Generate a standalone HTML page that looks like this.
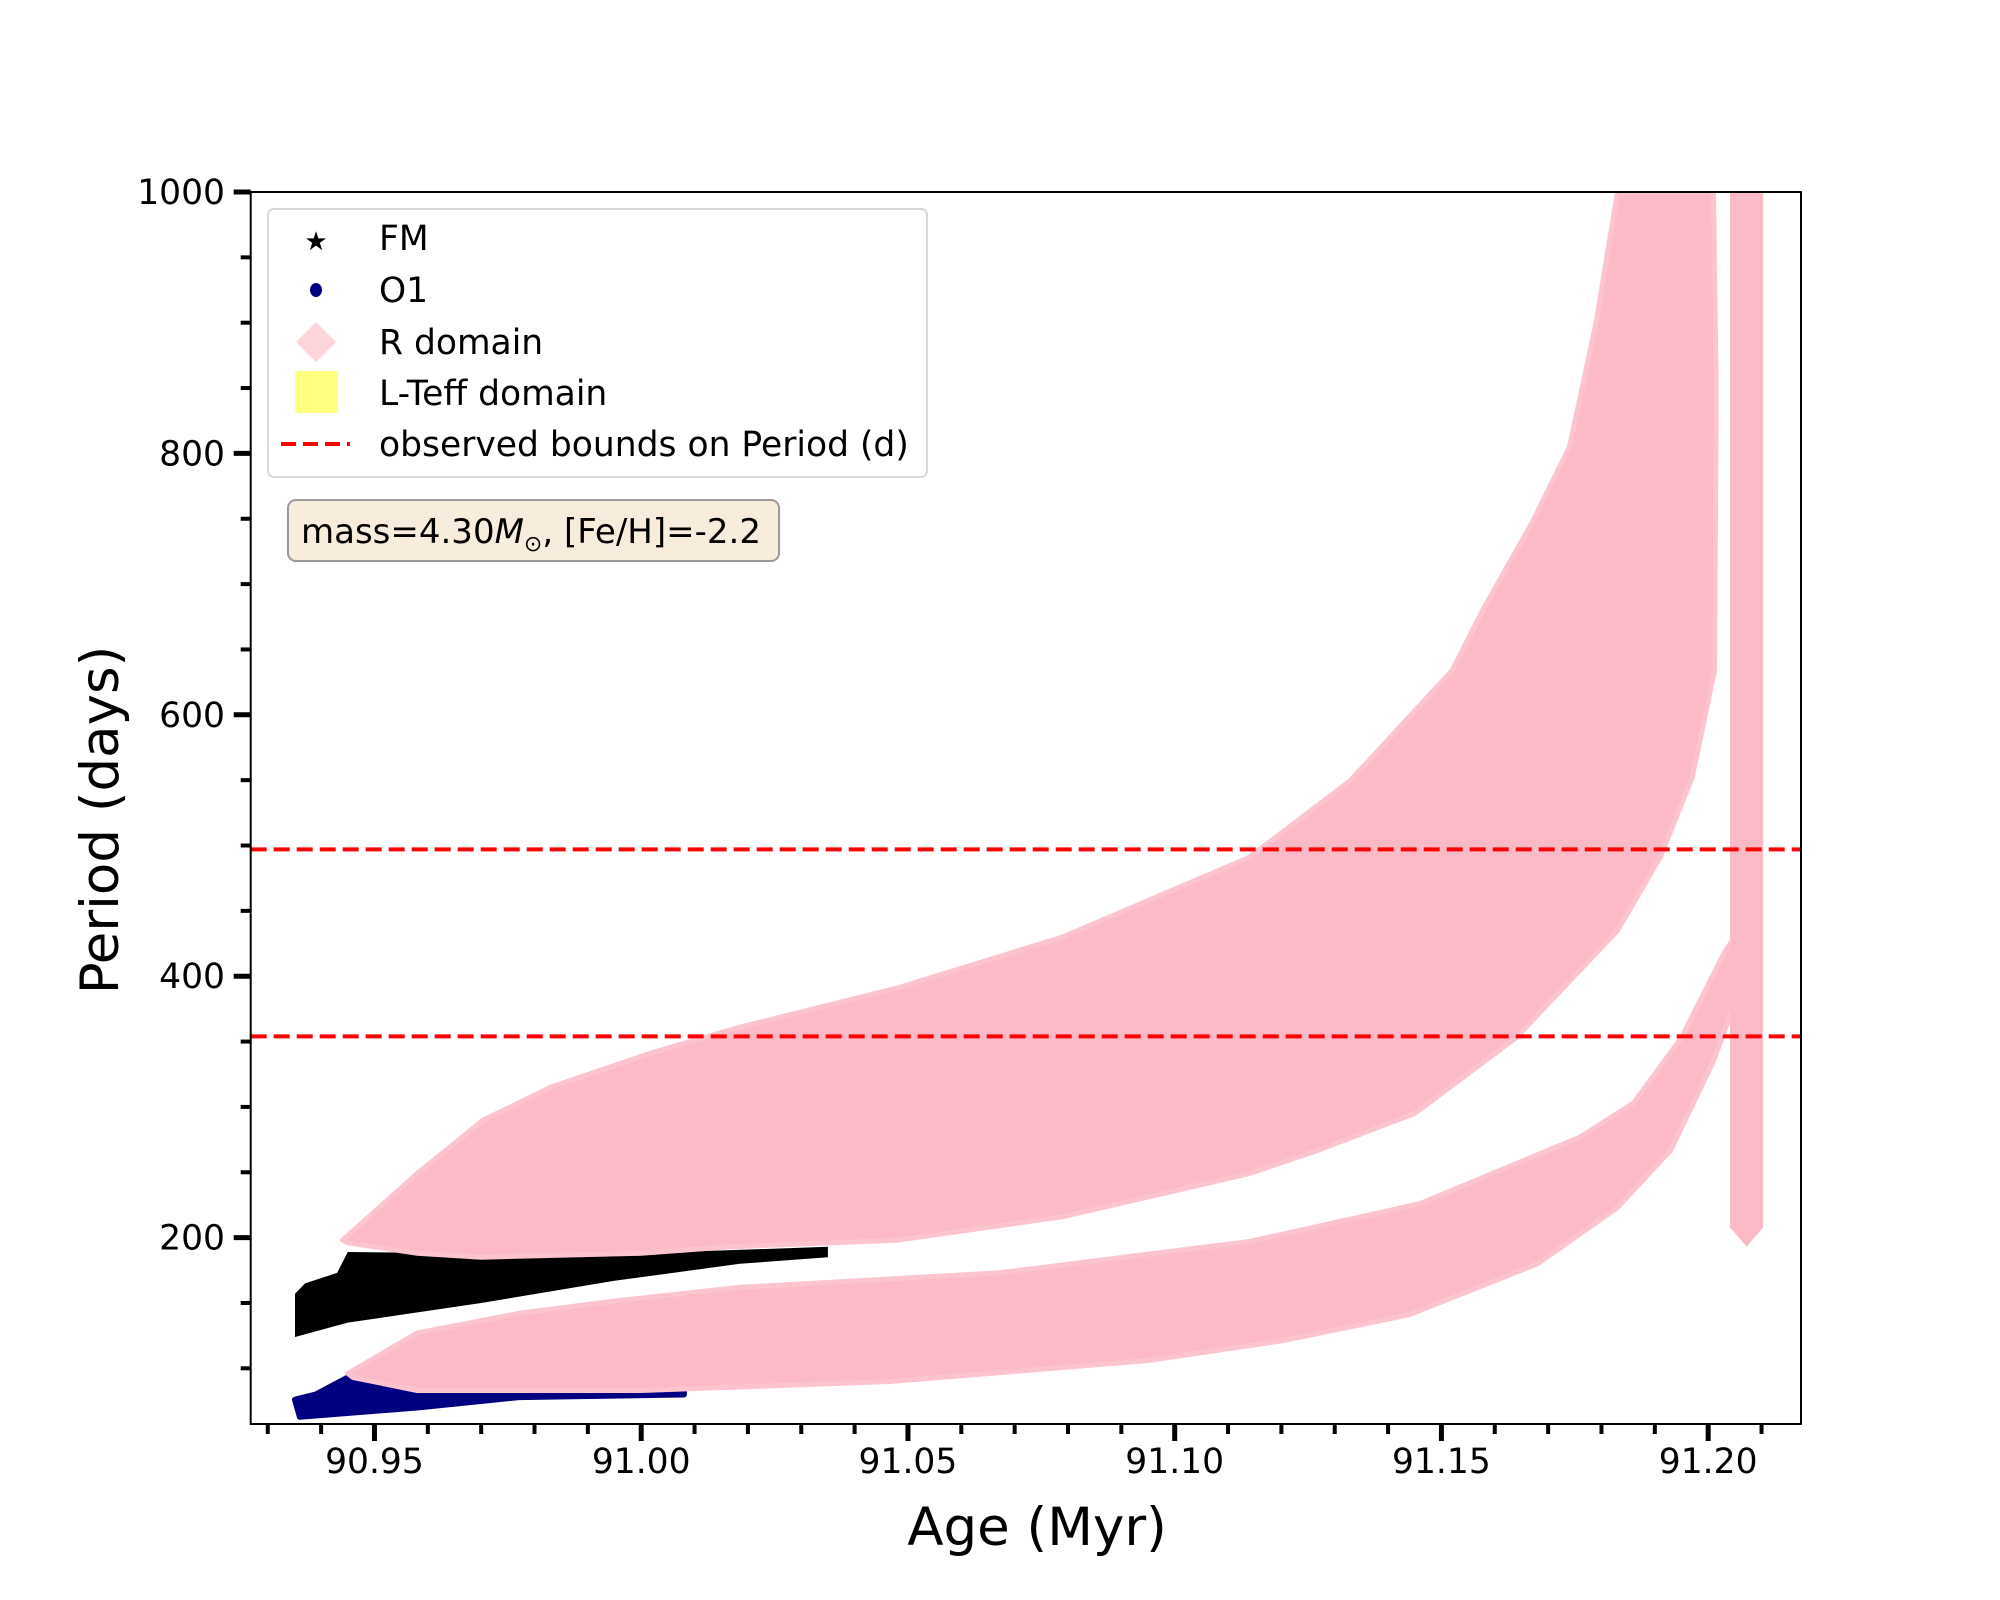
<!DOCTYPE html>
<html><head><meta charset="utf-8">
<style>
html,body{margin:0;padding:0;background:#fff;}
svg{display:block;font-family:"DejaVu Sans","Liberation Sans",sans-serif;}
</style></head>
<body>
<svg id="chart" width="2000" height="1600" viewBox="0 0 2000 1600" xmlns="http://www.w3.org/2000/svg">
<rect width="2000" height="1600" fill="#fff"/>
<g id="plot"></g>
<g id="axes"></g>
<text x="1037" y="1545" font-size="53" text-anchor="middle">Age (Myr)</text>
<text transform="translate(118,820) rotate(-90)" font-size="53" text-anchor="middle">Period (days)</text>
<g>
<rect x="268" y="209" width="659" height="268" rx="6" fill="#fff" fill-opacity="0.8" stroke="#d8d8d8" stroke-width="2"/>
<g>
<text x="316" y="250" font-size="26" text-anchor="middle">★</text>
<text x="379" y="250" font-size="34.5">FM</text></g>
<g>
<ellipse cx="316" cy="290" rx="6" ry="7" fill="#000080"/>
<text x="379" y="302" font-size="34.5">O1</text></g>
<g>
<polygon points="316,322 336,342 316,362 296,342" fill="#ffd5dc"/>
<text x="379" y="354" font-size="34.5">R domain</text></g>
<g>
<rect x="295" y="371" width="42" height="42" fill="#ffff80"/>
<text x="379" y="405" font-size="34.5">L-Teff domain</text></g>
<g>
<line x1="281" y1="444" x2="350" y2="444" stroke="#ff0000" stroke-width="4" stroke-dasharray="15,7"/>
<text x="379" y="456" font-size="34.5">observed bounds on Period (d)</text></g>
</g>
<g>
<rect x="288" y="500" width="491" height="61" rx="8" fill="#f8ecdc" stroke="#999" stroke-width="2"/>
<text x="301" y="543" font-size="34">mass=4.30<tspan font-style="italic">M</tspan><tspan font-size="22" dy="8">⊙</tspan><tspan dy="-8">, [Fe/H]=-2.2</tspan></text>
</g>
</svg>
<script>
// ---- data ----
const xTickLabels = ["90.95","91.00","91.05","91.10","91.15","91.20"];
const xTickValues = [90.95, 91.00, 91.05, 91.10, 91.15, 91.20];
const yTickValues = [200, 400, 600, 800, 1000];
const periodBounds = [497, 354];
// upper R-domain band
const upperTopAge = [90.9440, 90.9580, 90.9704, 90.9830, 91.0017, 91.0185, 91.0480, 91.0790, 91.1140, 91.1330, 91.1520, 91.1580, 91.1670, 91.1740, 91.1790, 91.1830];
const upperTopP   = [198, 249, 290, 315, 341, 361, 391, 430, 491, 550, 634, 682, 747, 805, 900, 1000];
const upperBotAge = [91.2010, 91.2015, 91.2012, 91.1970, 91.1910, 91.1830, 91.1640, 91.1450, 91.1270, 91.1140, 91.0790, 91.0480, 91.0167, 91.0000, 90.9700, 90.9580, 90.9450];
const upperBotP   = [1000, 849, 634, 552, 491, 435, 353, 295, 267, 249, 216, 198, 193, 188, 185, 188, 196];
// lower R-domain band
const lowerTopAge = [90.9450, 90.9580, 90.9770, 90.9960, 91.0185, 91.0670, 91.1140, 91.1460, 91.1760, 91.1860, 91.1950, 91.2030, 91.2050];
const lowerTopP   = [96, 127, 142, 152, 162, 173, 197, 226, 277, 303, 353, 418, 430];
const lowerBotAge = [91.2050, 91.2010, 91.1930, 91.1830, 91.1680, 91.1440, 91.1200, 91.0950, 91.0470, 91.0000, 90.9580, 90.9460];
const lowerBotP   = [380, 335, 267, 223, 180, 141, 121, 106, 90, 83, 83, 93];
// narrow spike near end of track
const spikeAge = [91.2041, 91.2103, 91.2103, 91.2072, 91.2041];
const spikeP   = [1000, 1000, 208, 193, 208];
// FM (stars) region
const fmTopAge = [90.9351, 90.9370, 90.9430, 90.9450, 90.9700, 91.0000, 91.0350];
const fmTopP   = [157, 165, 173, 189, 188, 188, 193];
const fmBotAge = [91.0350, 91.0185, 90.9950, 90.9700, 90.9450, 90.9351];
const fmBotP   = [185, 180, 167, 150, 135, 124];
// O1 (circles) region
const o1TopAge = [90.9351, 90.9390, 90.9450, 90.9704, 91.0080];
const o1TopP   = [76, 80, 93, 86, 82];
const o1BotAge = [91.0080, 90.9770, 90.9580, 90.9360];
const o1BotP   = [80, 78, 70, 63];

// ---- scales ----
const X0=250.7, X1=1801, Y0=192, Y1=1424;
const xMin=90.9268, xMax=91.2174, yMin=57.4, yMax=1000;
const sx = a => X0 + (a-xMin)/(xMax-xMin)*(X1-X0);
const sy = p => Y1 - (p-yMin)/(yMax-yMin)*(Y1-Y0);
const NS="http://www.w3.org/2000/svg";
const plot=document.getElementById('plot');
const axes=document.getElementById('axes');
function mk(tag, attrs, parent){const e=document.createElementNS(NS,tag);for(const k in attrs)e.setAttribute(k,attrs[k]);parent.appendChild(e);return e;}
function poly(ages, ps){return ages.map((a,i)=>sx(a).toFixed(1)+','+sy(ps[i]).toFixed(1)).join(' ');}

const clip=mk('clipPath',{id:'clip'},plot);
mk('rect',{x:X0,y:Y0,width:X1-X0,height:Y1-Y0},clip);
const g=mk('g',{'clip-path':'url(#clip)'},plot);

let el;
el=mk('polygon',{points:poly(fmTopAge.concat(fmBotAge),fmTopP.concat(fmBotP)),fill:'#000'},g);


el=mk('polygon',{points:poly(o1TopAge.concat(o1BotAge),o1TopP.concat(o1BotP)),fill:'#000080','stroke':'#000080','stroke-width':6,'stroke-linejoin':'round'},g);


el=mk('polygon',{points:poly(upperTopAge.concat(upperBotAge),upperTopP.concat(upperBotP)),fill:'#fcbac6','stroke':'#fcc4ce','stroke-width':5,'stroke-linejoin':'round'},g);


el=mk('polygon',{points:poly(lowerTopAge.concat(lowerBotAge),lowerTopP.concat(lowerBotP)),fill:'#fcbac6','stroke':'#fcc4ce','stroke-width':5,'stroke-linejoin':'round'},g);


el=mk('polygon',{points:poly(spikeAge,spikeP),fill:'#fcbac6'},g);



periodBounds.forEach(p=>{
  const l=mk('line',{x1:X0,x2:X1,y1:sy(p),y2:sy(p),stroke:'#ff0000','stroke-width':4,'stroke-dasharray':'16,7'},g);
  
  
});

// frame
el=mk('rect',{x:X0,y:Y0,width:X1-X0,height:Y1-Y0,fill:'none',stroke:'#000','stroke-width':2},axes);



// x ticks
for(let k=93;k<=121;k++){
  const a=90+k/100, x=sx(a), major=(k%5===0);
  const t=mk('line',{x1:x,x2:x,y1:Y1,y2:Y1+(major?17:10),stroke:'#000','stroke-width':major?5:4},axes);
  
  
}
xTickValues.forEach((v,i)=>{
  const t=mk('text',{x:sx(v),y:1473,'font-size':34.5,'text-anchor':'middle'},axes);
  t.textContent=xTickLabels[i];
  
  
});
// y ticks
for(let p=100;p<=1000;p+=50){
  const y=sy(p), major=(p%200===0);
  const t=mk('line',{x1:X0-(major?17:10),x2:X0,y1:y,y2:y,stroke:'#000','stroke-width':major?5:4},axes);
  
  
}
yTickValues.forEach(v=>{
  const t=mk('text',{x:225,y:sy(v)+12,'font-size':34.5,'text-anchor':'end'},axes);
  t.textContent=String(v);
  
  
});
</script>
</body></html>
